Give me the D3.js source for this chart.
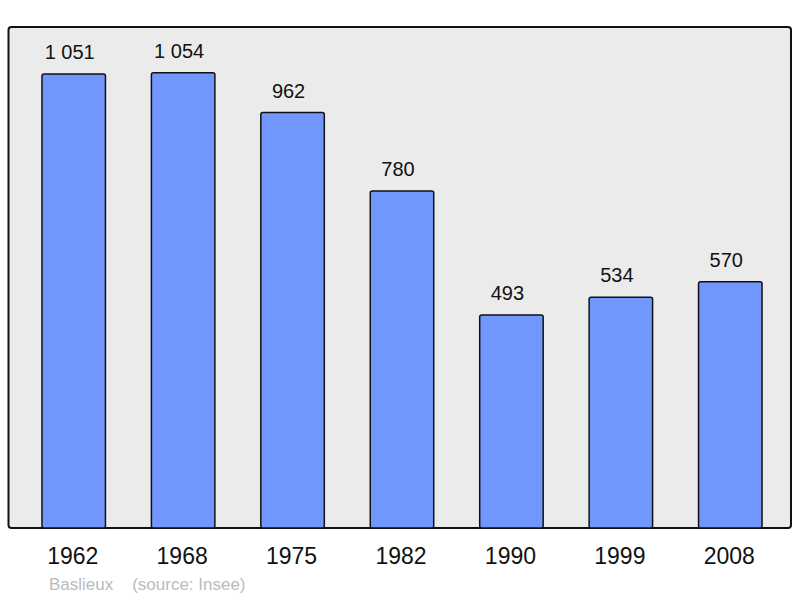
<!DOCTYPE html>
<html>
<head>
   <script src="https://d3js.org/d3.v7.min.js"></script>
   <style>
      body { margin: 0; background: #fff; }
      text { font-family: "Liberation Sans", Arial, sans-serif; }
   </style>
</head>
<body>
   <script>
      var years = ["1962", "1968", "1975", "1982", "1990", "1999", "2008"]
      var population = [1051, 1054, 962, 780, 493, 534, 570]
      var valueLabels = ["1 051", "1 054", "962", "780", "493", "534", "570"]
      var caption = "Baslieux    (source: Insee)"

      var svg = d3.select("body").append("svg").attr("width", 800).attr("height", 598)

      var scaleX = d3.scaleBand().domain(years).range([19, 785]).paddingInner(0.42).paddingOuter(0.21)
      var scaleY = d3.scaleLinear().domain([0, 1160]).range([528, 27])

      // plot frame
      svg.append("rect")
         .attr("x", 8.5).attr("y", 27).attr("width", 782.5).attr("height", 501)
         .attr("rx", 3)
         .attr("fill", "#ebebeb").attr("stroke", "#111").attr("stroke-width", 2)

      var data = years.map((y, i) => ({ year: y, v: population[i], label: valueLabels[i] }))

      svg.selectAll("rect.bar").data(data).enter().append("rect")
         .attr("class", "bar")
         .attr("x", d => scaleX(d.year))
         .attr("y", d => scaleY(d.v))
         .attr("width", scaleX.bandwidth())
         .attr("height", d => 528 - scaleY(d.v))
         .attr("rx", 2)
         .attr("fill", "#7197ff").attr("stroke", "#111").attr("stroke-width", 1.5)

      svg.selectAll("text.val").data(data).enter().append("text")
         .attr("class", "val")
         .attr("x", d => scaleX(d.year) + scaleX.bandwidth() / 2 - 4)
         .attr("y", d => scaleY(d.v) - 15)
         .attr("text-anchor", "middle")
         .attr("font-size", 20)
         .attr("fill", "#111")
         .text(d => d.label)

      // x axis labels
      var axisX = d3.axisBottom(scaleX).tickSize(0).tickPadding(0)
      var gx = svg.append("g").attr("transform", "translate(-1, 528)").call(axisX)
      gx.select(".domain").remove()
      gx.selectAll("text")
         .attr("dy", 0).attr("y", 36)
         .attr("font-size", 23).attr("fill", "#111")
         .style("font-family", "'Liberation Sans', Arial, sans-serif")

      svg.append("text")
         .attr("x", 49).attr("y", 590)
         .attr("font-size", 17).attr("fill", "#bbb")
         .style("white-space", "pre")
         .text(caption)
   </script>
</body>
</html>
